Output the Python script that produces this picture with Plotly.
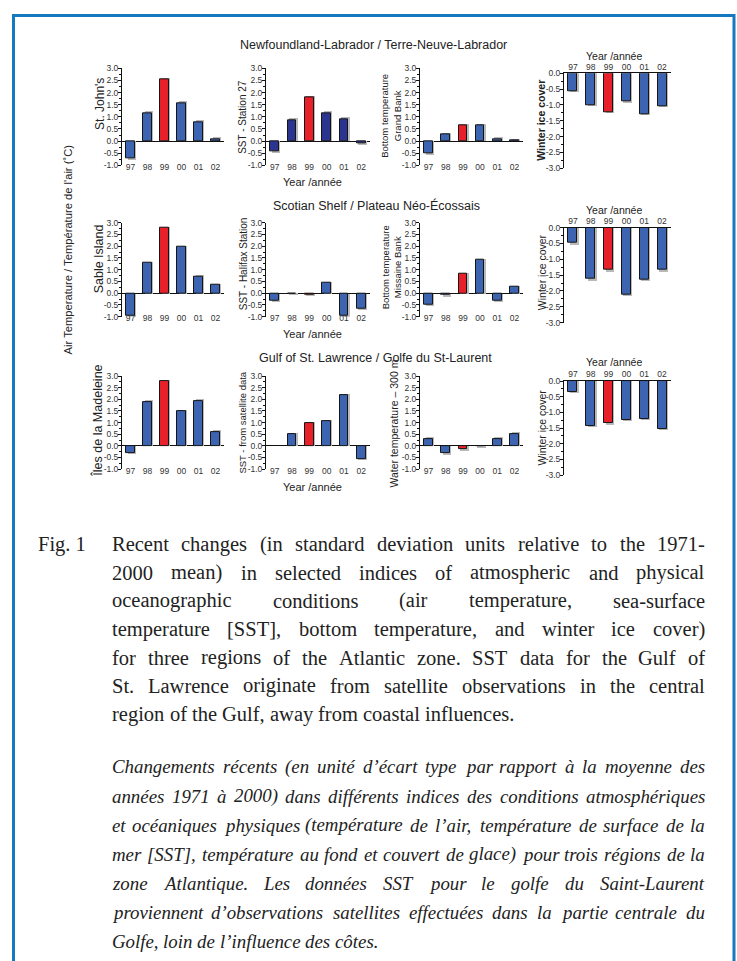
import plotly.graph_objects as go

# ---------------- data ----------------
years = ["97", "98", "99", "00", "01", "02"]

# Newfoundland-Labrador
nl_air_stjohns = [-0.72, 1.16, 2.54, 1.56, 0.79, 0.08]
nl_sst_station27 = [-0.43, 0.86, 1.80, 1.15, 0.91, -0.11]
nl_bottom_grandbank = [-0.52, 0.27, 0.63, 0.63, 0.08, 0.01]
nl_ice = [-0.57, -1.00, -1.22, -0.89, -1.29, -1.03]
# Scotian Shelf
ss_air_sable = [-0.96, 1.28, 2.78, 1.97, 0.71, 0.36]
ss_sst_halifax = [-0.31, -0.02, -0.05, 0.44, -0.95, -0.66]
ss_bottom_missaine = [-0.47, -0.07, 0.83, 1.42, -0.30, 0.26]
ss_ice = [-0.48, -1.62, -1.33, -2.10, -1.63, -1.33]
# Gulf of St. Lawrence
gsl_air_madeleine = [-0.31, 1.90, 2.78, 1.48, 1.93, 0.60]
gsl_sst_satellite = [None, 0.51, 0.98, 1.05, 2.17, -0.57]
gsl_water_300m = [0.31, -0.32, -0.15, -0.03, 0.31, 0.52]
gsl_ice = [-0.34, -1.43, -1.35, -1.24, -1.20, -1.53]

temp_ticks = [-1.0, -0.5, 0.0, 0.5, 1.0, 1.5, 2.0, 2.5, 3.0]
ice_ticks = [-3.0, -2.5, -2.0, -1.5, -1.0, -0.5, 0.0]

row_titles = ["Newfoundland-Labrador / Terre-Neuve-Labrador",
              "Scotian Shelf / Plateau Néo-Écossais",
              "Gulf of St. Lawrence / Golfe du St-Laurent"]

caption_en = [
    "Recent changes (in standard deviation units relative to the 1971-",
    "2000 mean) in selected indices of atmospheric and physical",
    "oceanographic conditions (air temperature, sea-surface",
    "temperature [SST], bottom temperature, and winter ice cover)",
    "for three regions of the Atlantic zone. SST data for the Gulf of",
    "St. Lawrence originate from satellite observations in the central",
    "region of the Gulf, away from coastal influences.",
]
caption_fr = [
    "Changements récents (en unité d’écart type par rapport à la moyenne des",
    "années 1971 à 2000) dans différents indices des conditions atmosphériques",
    "et océaniques physiques (température de l’air, température de surface de la",
    "mer [SST], température au fond et couvert de glace) pour trois régions de la",
    "zone Atlantique. Les données SST pour le golfe du Saint-Laurent",
    "proviennent d’observations satellites effectuées dans la partie centrale du",
    "Golfe, loin de l’influence des côtes.",
]

# ---------------- layout helpers ----------------
W, H = 737, 961
def px(x):
    return x / W
def py(y):
    return 1 - y / H

BLUE = "#3c64b1"
NAVY = "#2b3590"
RED = "#e8202a"
SANS = "Liberation Sans, Arial, sans-serif"
SERIF = "Liberation Serif, Times New Roman, serif"
TXT = "#222222"

col_x = [(122, 224), (266, 370), (420, 523), (564, 671)]
row_temp_y = [(64, 162), (220, 315), (375, 469)]
row_ice_y = [(69, 165), (225, 321), (380, 475)]

series = [
    [nl_air_stjohns, nl_sst_station27, nl_bottom_grandbank, nl_ice],
    [ss_air_sable, ss_sst_halifax, ss_bottom_missaine, ss_ice],
    [gsl_air_madeleine, gsl_sst_satellite, gsl_water_300m, gsl_ice],
]
base_colors = [
    [BLUE, NAVY, BLUE, BLUE],
    [BLUE, BLUE, BLUE, BLUE],
    [BLUE, BLUE, BLUE, BLUE],
]
# y-axis titles: (lines, x center px, y center px, size, bold)
ytitles = [
    [(["St. John's"], 100, 100, 12, False),
     (["SST - Station 27"], 243, 113, 10, False),
     (["Bottom temperature", "Grand Bank"], 391, 112, 9.5, False),
     (["Winter ice cover"], 541, 117, 10.5, True)],
    [(["Sable Island"], 99, 257, 12.5, False),
     (["SST - Halifax Station"], 243, 262, 10, False),
     (["Bottom temperature", "Missaine Bank"], 391, 265, 9.5, False),
     (["Winter ice cover"], 542, 270, 10.5, False)],
    [(["Îles de la Madeleine"], 98, 420, 12.5, False),
     (["SST - from satellite data"], 243, 422, 9.5, False),
     (["Water temperature – 300 m"], 394, 423, 10.5, False),
     (["Winter ice cover"], 542, 427, 10.5, False)],
]
row_title_y = [40, 203, 357]
row_title_x = [373, 376, 375]
year_bottom_y = [179, 332, 487]
year_top_y = [52, 207, 361]


def fmt(v):
    return f"{v:.1f}"


fig = go.Figure()
annotations = []
n = 0
for r in range(3):
    for c in range(4):
        n += 1
        vals = series[r][c]
        ice = (c == 3)
        xa = "x" if n == 1 else f"x{n}"
        ya = "y" if n == 1 else f"y{n}"
        colors = [RED if yr == "99" else base_colors[r][c] for yr in years]
        sh = 0.045 if ice else 0.06
        shadow = [None if v is None else v + (sh if v >= 0 else -sh) for v in vals]
        fig.add_trace(go.Bar(x=years, y=shadow, xaxis=xa, yaxis=ya,
                             width=0.5, offset=-0.25 + 0.08,
                             marker=dict(color="#b9b9b9", line=dict(width=0)),
                             hoverinfo="skip"))
        fig.add_trace(go.Bar(x=years, y=vals, xaxis=xa, yaxis=ya,
                             width=0.5, offset=-0.25,
                             marker=dict(color=colors, line=dict(color="#151515", width=1))))
        x0, x1 = col_x[c]
        y0, y1 = (row_ice_y if ice else row_temp_y)[r]
        ticks = ice_ticks if ice else temp_ticks
        minor_vals = [ticks[0] + 0.25 * k for k in range(int((ticks[-1] - ticks[0]) / 0.25) + 1)]
        xkey = "xaxis" if n == 1 else f"xaxis{n}"
        ykey = "yaxis" if n == 1 else f"yaxis{n}"
        fig.update_layout(**{
            xkey: dict(domain=[px(x0), px(x1)], anchor=ya, type="category",
                       categoryorder="array", categoryarray=years,
                       range=[-0.5, 5.5], showgrid=False, zeroline=False,
                       showline=ice, linecolor="#111111", linewidth=1.3,
                       side="top" if ice else "bottom", ticks="",
                       ticklabelstandoff=-1 if ice else -5,
                       tickfont=dict(family=SANS, size=8.5, color="#333333"),
                       fixedrange=True),
            ykey: dict(domain=[py(y1), py(y0)], anchor=xa,
                       range=[ticks[0], ticks[-1]],
                       showgrid=False, showline=True, linecolor="#111111", linewidth=1,
                       ticks="outside", ticklen=3, tickwidth=1, tickcolor="#111111",
                       tickmode="array", tickvals=ticks, ticktext=[fmt(v) for v in ticks],
                       ticklabelstandoff=-2,
                       minor=dict(ticks="outside", ticklen=2, tickvals=minor_vals,
                                  tickcolor="#111111"),
                       zeroline=not ice, zerolinecolor="#111111", zerolinewidth=1.3,
                       tickfont=dict(family=SANS, size=8.5, color="#333333"),
                       fixedrange=True),
        })
        lines, tx, ty, ts, tb = ytitles[r][c]
        txt = "<br>".join(lines)
        if tb:
            txt = "<b>" + txt + "</b>"
        annotations.append(dict(xref="paper", yref="paper", x=px(tx), y=py(ty),
                                text=txt, textangle=-90, showarrow=False, borderpad=0,
                                font=dict(family=SANS, size=ts, color=TXT),
                                xanchor="center", yanchor="middle"))
    annotations.append(dict(xref="paper", yref="paper", x=px(row_title_x[r]), y=py(row_title_y[r]),
                            text=row_titles[r], showarrow=False,
                            font=dict(family=SANS, size=12.5, color=TXT),
                            xanchor="center", yanchor="middle"))
    annotations.append(dict(xref="paper", yref="paper", x=px(312), y=py(year_bottom_y[r]),
                            text="Year /année", showarrow=False, borderpad=0,
                            font=dict(family=SANS, size=11, color=TXT),
                            xanchor="center", yanchor="middle"))
    annotations.append(dict(xref="paper", yref="paper", x=px(614), y=py(year_top_y[r]),
                            text="Year /année", showarrow=False, borderpad=0,
                            font=dict(family=SANS, size=10.5, color=TXT),
                            xanchor="center", yanchor="middle"))

annotations.append(dict(xref="paper", yref="paper", x=px(68), y=py(247),
                        text="Air Temperature / Température de l'air (˚C)", textangle=-90,
                        showarrow=False, font=dict(family=SANS, size=11.2, color=TXT),
                        xanchor="center", yanchor="middle"))

# ---------------- caption (justified, word by word) ----------------
REG = dict(zip("abcdefghijklmnopqrstuvwxyz",
               [444, 500, 444, 500, 444, 333, 500, 500, 278, 278, 500, 278, 778,
                500, 500, 500, 500, 333, 389, 278, 500, 500, 722, 500, 500, 444]))
REG.update(dict(zip("ABCDEFGHIJKLMNOPQRSTUVWXYZ",
                    [722, 667, 667, 722, 611, 556, 722, 722, 333, 389, 722, 611, 889,
                     722, 722, 556, 722, 667, 556, 611, 722, 722, 944, 722, 722, 611])))
REG.update({" ": 250, ".": 250, ",": 250, "-": 333, "(": 333, ")": 333, "[": 333,
            "]": 333, "’": 333, "é": 444, "à": 444, "ô": 500})
ITA = dict(zip("abcdefghijklmnopqrstuvwxyz",
               [500, 500, 444, 500, 444, 278, 500, 500, 278, 278, 444, 278, 722,
                500, 500, 500, 500, 389, 389, 278, 500, 444, 667, 444, 444, 389]))
ITA.update(dict(zip("ABCDEFGHIJKLMNOPQRSTUVWXYZ",
                    [611, 611, 667, 722, 611, 611, 722, 722, 333, 444, 667, 556, 833,
                     667, 722, 611, 722, 611, 500, 556, 722, 611, 833, 611, 556, 556])))
ITA.update({" ": 250, ".": 250, ",": 250, "-": 333, "(": 333, ")": 333, "[": 389,
            "]": 389, "’": 333, "é": 444, "à": 500, "ô": 500})


def em(s, table):
    return sum(table.get(ch, 500) for ch in s) / 1000.0


def paragraph(lines, y0, dy, italic, xl=112, xr=705):
    table = ITA if italic else REG
    size = (xr - xl) * 0.975 / max(em(l, table) for l in lines[:-1])
    size = min(size, 20.5)
    for k, line in enumerate(lines):
        y = y0 + k * dy
        words = line.split(" ")
        last = (k == len(lines) - 1)
        ww = [em(w, table) * size for w in words]
        gap = 0.25 * size if last else (xr - xl - sum(ww)) / (len(words) - 1)
        x = xl
        for j, w in enumerate(words):
            txt = "<i>" + w + "</i>" if italic else w
            if (not last) and j == len(words) - 1:
                ax, anc = xr, "right"
            else:
                ax, anc = x, "left"
            annotations.append(dict(xref="paper", yref="paper", x=px(ax), y=py(y),
                                    text=txt, showarrow=False, borderpad=0, borderwidth=0,
                                    font=dict(family=SERIF, size=size, color=TXT),
                                    xanchor=anc, yanchor="middle"))
            x += ww[j] + gap
    return size

fs = paragraph(caption_en, 545, 28.6, False)
annotations.append(dict(xref="paper", yref="paper", x=px(37), y=py(545), text="Fig. 1",
                        showarrow=False, borderpad=0,
                        font=dict(family=SERIF, size=fs, color=TXT),
                        xanchor="left", yanchor="middle"))
paragraph(caption_fr, 770, 29.4, True)

fig.update_layout(
    width=W, height=H, margin=dict(l=0, r=0, t=0, b=0),
    paper_bgcolor="white", plot_bgcolor="white",
    showlegend=False, barmode="overlay", bargap=0,
    annotations=annotations,
    shapes=[dict(type="rect", xref="paper", yref="paper",
                 x0=px(13.5), x1=px(734), y0=-0.05, y1=py(10.5),
                 line=dict(color="#1479bf", width=3), layer="above")],
)

fig.write_html("out.html")
